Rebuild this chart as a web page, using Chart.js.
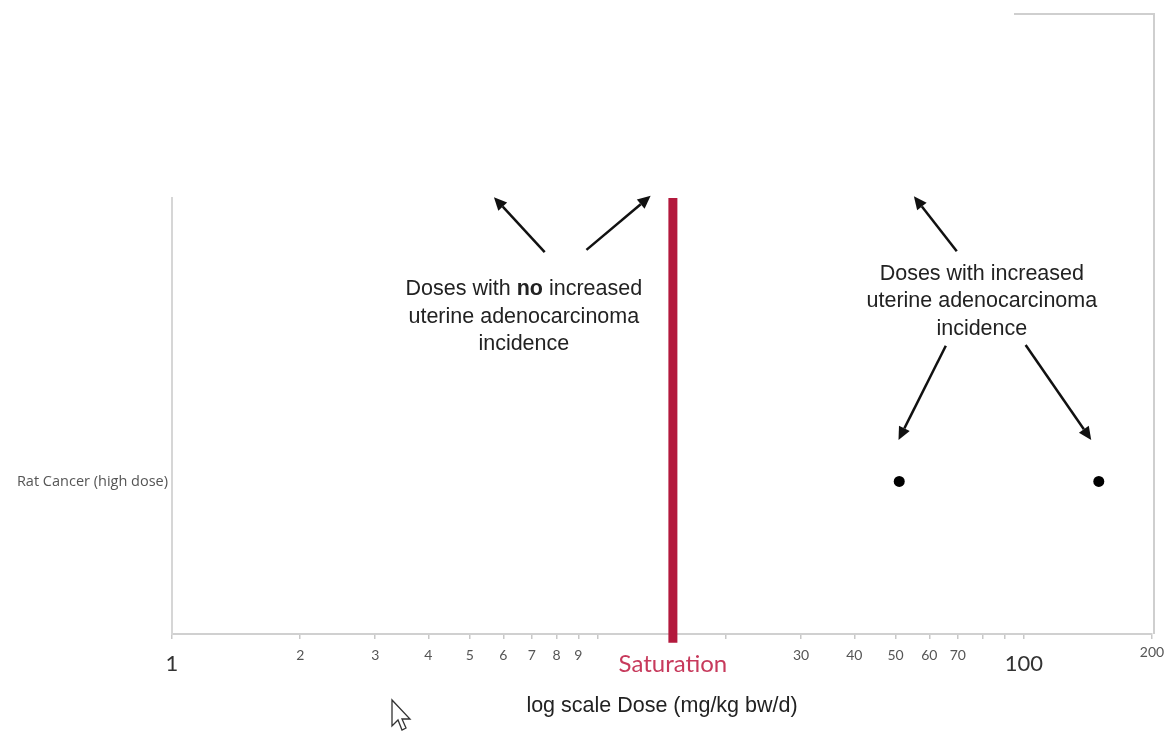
<!DOCTYPE html>
<html>
<head>
<meta charset="utf-8">
<script src="https://cdn.jsdelivr.net/npm/chart.js@4.4.1/dist/chart.umd.min.js"></script>
<style>
  html, body { margin: 0; padding: 0; background: #fff; }
  canvas { display: block; }
</style>
</head>
<body>
<canvas id="chartCanvas" width="1169" height="734"></canvas>
<script>
// data
const categories = ['Rat Cancer (high dose)'];
const ratCancerDoses = [51, 150];          // mg/kg bw/d, increased incidence
const saturationDose = 15;
const xTickValues = [1, 2, 3, 4, 5, 6, 7, 8, 9, 10, 15, 20, 30, 40, 50, 60, 70, 80, 90, 100, 200];
const xTickLabels = ['1', '2', '3', '4', '5', '6', '7', '8', '9', '', 'Saturation', '', '30', '40', '50', '60', '70', '', '', '100', '200'];
const bigTicks = ['1', '100'];

const rowLevel = 0.35;   // vertical place of the single category row
const RED = '#b3193d';

// annotations, in data units (dose, y)
const arrows = [
  { from: [7.5, 0.876], to: [5.7, 1.002] },
  { from: [9.4, 0.881], to: [13.3, 1.005] },
  { from: [69.6, 0.878], to: [55.2, 1.004] },
  { from: [65.6, 0.661], to: [50.8, 0.445] },
  { from: [101, 0.663], to: [144, 0.445] }
];
const notes = [
  { x: 6.7, y: 0.79, lines: [[['Doses with ', false], ['no', true], [' increased', false]], [['uterine adenocarcinoma', false]], [['incidence', false]]] },
  { x: 79.7, y: 0.826, lines: [[['Doses with increased', false]], [['uterine adenocarcinoma', false]], [['incidence', false]]] }
];

const labelFor = v => {
  const i = xTickValues.indexOf(v);
  return i < 0 ? '' : xTickLabels[i];
};

const annotationPlugin = {
  id: 'annotations',
  afterDraw(chart) {
    const { ctx, chartArea } = chart;
    const xs = chart.scales.x, ys = chart.scales.y;
    ctx.save();

    // frame remains at the top right
    ctx.strokeStyle = '#cfcfcf';
    ctx.lineWidth = 2;
    ctx.beginPath();
    ctx.moveTo(chartArea.right - 138, 14);
    ctx.lineTo(chartArea.right + 2, 14);
    ctx.lineTo(chartArea.right + 2, chartArea.bottom);
    ctx.stroke();

    // arrows
    ctx.strokeStyle = '#111';
    ctx.fillStyle = '#111';
    ctx.lineWidth = 2.5;
    arrows.forEach(a => {
      const x1 = xs.getPixelForValue(a.from[0]), y1 = ys.getPixelForValue(a.from[1]);
      const x2 = xs.getPixelForValue(a.to[0]), y2 = ys.getPixelForValue(a.to[1]);
      const ang = Math.atan2(y2 - y1, x2 - x1);
      const len = 13, wid = 6;
      const bx = x2 - len * Math.cos(ang), by = y2 - len * Math.sin(ang);
      ctx.beginPath();
      ctx.moveTo(x1, y1);
      ctx.lineTo(bx, by);
      ctx.stroke();
      ctx.beginPath();
      ctx.moveTo(x2, y2);
      ctx.lineTo(bx + wid * Math.sin(ang), by - wid * Math.cos(ang));
      ctx.lineTo(bx - wid * Math.sin(ang), by + wid * Math.cos(ang));
      ctx.closePath();
      ctx.fill();
    });

    // text notes
    const size = 21.5;
    ctx.textBaseline = 'middle';
    ctx.fillStyle = '#222';
    notes.forEach(n => {
      const cx = xs.getPixelForValue(n.x);
      let y = ys.getPixelForValue(n.y);
      n.lines.forEach(parts => {
        let total = 0;
        parts.forEach(([t, b]) => {
          ctx.font = (b ? 'bold ' : '') + size + 'px "Liberation Sans", Arial, sans-serif';
          total += ctx.measureText(t).width;
        });
        let x = cx - total / 2;
        ctx.textAlign = 'left';
        parts.forEach(([t, b]) => {
          ctx.font = (b ? 'bold ' : '') + size + 'px "Liberation Sans", Arial, sans-serif';
          ctx.fillText(t, x, y);
          x += ctx.measureText(t).width;
        });
        y += 27.5;
      });
    });

    // mouse pointer left in the screenshot
    const px = 392, py = 700;
    ctx.beginPath();
    ctx.moveTo(px, py);
    ctx.lineTo(px, py + 26);
    ctx.lineTo(px + 6, py + 20);
    ctx.lineTo(px + 10, py + 30);
    ctx.lineTo(px + 14, py + 28);
    ctx.lineTo(px + 10, py + 19);
    ctx.lineTo(px + 18, py + 19);
    ctx.closePath();
    ctx.fillStyle = '#fff';
    ctx.fill();
    ctx.strokeStyle = '#333';
    ctx.lineWidth = 1.3;
    ctx.stroke();

    ctx.restore();
  }
};

const canvas = document.getElementById('chartCanvas');
new Chart(canvas.getContext('2d'), {
  type: 'scatter',
  data: {
    datasets: [
      {
        label: 'Saturation',
        type: 'line',
        data: [{ x: saturationDose, y: -0.02 }, { x: saturationDose, y: 1 }],
        borderColor: RED,
        borderWidth: 9,
        pointRadius: 0,
        clip: false,
        order: 2
      },
      {
        label: categories[0],
        data: ratCancerDoses.map(d => ({ x: d, y: rowLevel })),
        backgroundColor: '#000',
        borderWidth: 0,
        pointRadius: 5.5,
        order: 1
      }
    ]
  },
  options: {
    responsive: false,
    animation: false,
    layout: { padding: { top: 198, right: 17, bottom: 0, left: 0 } },
    plugins: { legend: { display: false }, tooltip: { enabled: false } },
    scales: {
      x: {
        type: 'logarithmic',
        position: 'bottom',
        min: 1,
        max: 200,
        afterBuildTicks: s => { s.ticks = xTickValues.map(v => ({ value: v })); },
        afterFit: s => { s.height = 100; },
        grid: { drawOnChartArea: false, drawTicks: true, tickLength: 5, color: '#c8c8c8', lineWidth: 1.5 },
        border: { color: '#d0d0d0', width: 2 },
        ticks: {
          autoSkip: false,
          maxRotation: 0,
          padding: 3,
          callback: v => labelFor(v),
          font: c => {
            const l = labelFor(c.tick ? c.tick.value : 0);
            if (l === 'Saturation') return { family: 'Lato, "Open Sans", sans-serif', size: 24, lineHeight: '44px' };
            if (bigTicks.includes(l)) return { family: 'Lato, "Open Sans", sans-serif', size: 22, lineHeight: '44px' };
            if (l === '200') return { family: 'Lato, "Open Sans", sans-serif', size: 14, lineHeight: '20px' };
            return { family: 'Lato, "Open Sans", sans-serif', size: 14, lineHeight: '26px' };
          },
          color: c => {
            const l = labelFor(c.tick ? c.tick.value : 0);
            if (l === 'Saturation') return '#c73a5c';
            if (bigTicks.includes(l)) return '#333';
            return '#555';
          }
        },
        title: {
          display: true,
          text: 'log scale Dose (mg/kg bw/d)',
          color: '#222',
          font: { family: '"Liberation Sans", Arial, sans-serif', size: 21.5 },
          padding: { top: 0, bottom: 15 }
        }
      },
      y: {
        type: 'linear',
        min: 0,
        max: 1,
        afterBuildTicks: s => { s.ticks = [{ value: rowLevel }]; },
        afterFit: s => { s.width = 172; },
        grid: { drawOnChartArea: false, drawTicks: false },
        border: { color: '#d6d6d6', width: 2 },
        ticks: {
          padding: 4,
          callback: () => categories[0],
          color: '#555',
          font: { family: '"Open Sans", sans-serif', size: 14.5 }
        }
      }
    }
  },
  plugins: [annotationPlugin]
});
</script>
</body>
</html>
